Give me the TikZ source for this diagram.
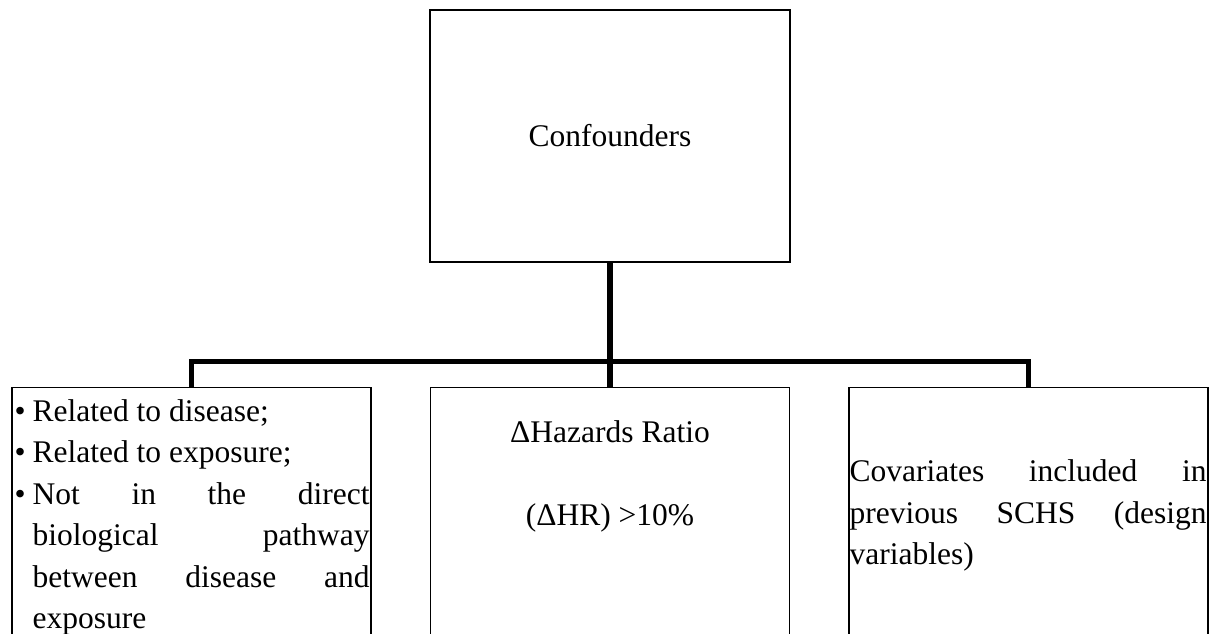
\documentclass[tikz,border=0pt]{standalone}
\usepackage{fontspec}
\setmainfont{Liberation Serif}
\usetikzlibrary{positioning}
\newcommand{\critem}[1]{\hangindent=20pt\hangafter=1\noindent\makebox[20pt][l]{\hspace{2pt}\textbullet}#1\par}

\begin{document}
\begin{tikzpicture}
[x=1pt,y=1pt,
 font=\fontsize{31.5}{41.5}\selectfont,
 box/.style={draw,line width=1.2pt,inner sep=0},
 leaf/.style={box,minimum width=359pt,minimum height=300pt,anchor=north},
 leaftext/.style={inner sep=0,align=justify,text width=357pt,
   execute at begin node={\hyphenpenalty=10000\relax}},
 bus/.style={line width=5.5pt}]
\useasboundingbox (0,0) rectangle (1215,634);
\clip (0,0) rectangle (1215,634);

\node[box,minimum width=360pt,minimum height=252pt] (conf) at (610,498) {Confounders};

\node[leaf] (crit) at (191.5,247) {};
\node[leaf] (hr)   at (610,247) {};
\node[leaf] (cov)  at (1028.5,247) {};

\node[leaftext,anchor=north west] (crittext) at ([xshift=1pt,yshift=-12pt]crit.north west)
{\critem{Related to disease;}%
 \critem{Related to exposure;}%
 \critem{Not in the direct\linebreak biological pathway\linebreak between disease and\linebreak exposure}};

\node[inner sep=0,align=center,anchor=north] (hrtext) at ([yshift=-33.5pt]hr.north)
{ΔHazards Ratio\\[41.5pt](ΔHR) >10\%};

\node[leaftext,anchor=north west] (covtext) at ([xshift=1pt,yshift=-72.5pt]cov.north west)
{Covariates included in\linebreak previous SCHS (design\linebreak variables)};

% connectors
\coordinate (split) at ([yshift=-99pt]conf.south);
\draw[bus] (conf.south) -- (hr.north);
\draw[bus] (crit.north) -- (crit.north |- split) -- (cov.north |- split) -- (cov.north);
\end{tikzpicture}
\end{document}
